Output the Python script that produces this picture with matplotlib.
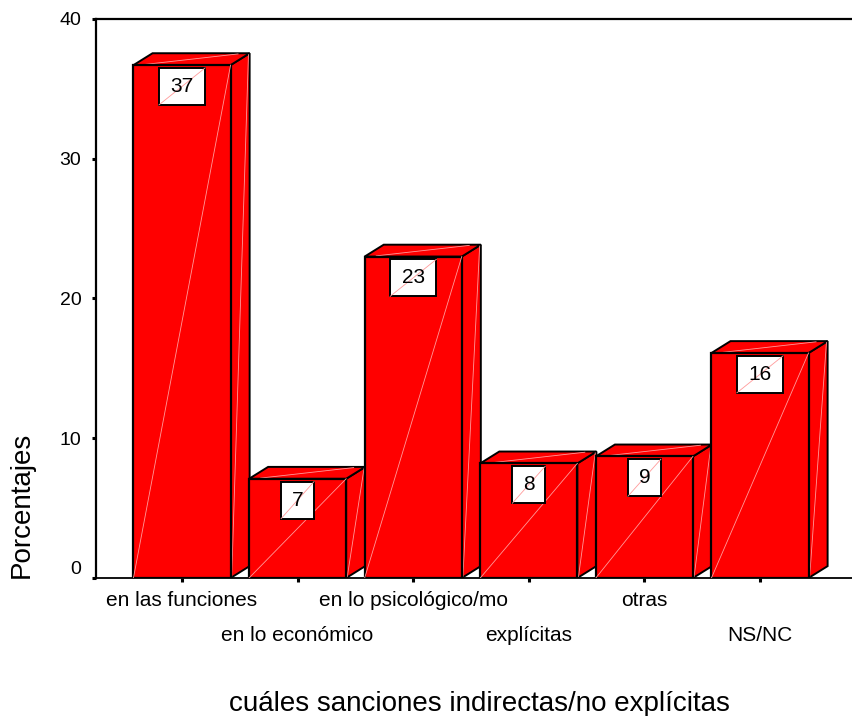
import matplotlib.pyplot as plt
from matplotlib.patches import Polygon, Rectangle

plt.rcParams['font.family'] = ['Liberation Sans', 'DejaVu Sans']

# Porcentajes por categoría
categorias = ['en las funciones', 'en lo económico', 'en lo psicológico/mo',
              'explícitas', 'otras', 'NS/NC']
porcentajes = [36.7, 7.1, 23.0, 8.2, 8.7, 16.1]
yticks = [0, 10, 20, 30, 40]

ROJO = '#ff0000'
BRILLO = '#ff9a9a'
ANCHO = 0.84          # ancho de la cara frontal
DX, DY = 0.165, 0.85  # profundidad del efecto 3D (en unidades de datos)

fig = plt.figure(figsize=(8.52, 7.16), dpi=100)
ax = fig.add_axes([96 / 852, 1 - 578 / 716, 1 - 96 / 852, 559 / 716])
ax.set_xlim(-0.744, 5.796)
ax.set_ylim(0, 40)

for i, h in enumerate(porcentajes):
    x0, x1 = i - ANCHO / 2, i + ANCHO / 2
    # cara lateral
    ax.add_patch(Polygon([(x1, 0), (x1, h), (x1 + DX, h + DY), (x1 + DX, DY)],
                         closed=True, fc=ROJO, ec='black', lw=1.4, zorder=2))
    # cara superior
    ax.add_patch(Polygon([(x0, h), (x1, h), (x1 + DX, h + DY), (x0 + DX, h + DY)],
                         closed=True, fc=ROJO, ec='black', lw=1.4, zorder=2))
    # cara frontal
    ax.add_patch(Rectangle((x0, 0), ANCHO, h, fc=ROJO, ec='black', lw=1.6,
                           zorder=3))
    # reflejos tenues del degradado
    ax.plot([x0, x1], [0, h], color=BRILLO, lw=0.6, zorder=3.5)
    ax.plot([x1 + 0.01, x1 + DX - 0.01], [0.1, h + DY - 0.1], color=BRILLO,
            lw=0.6, zorder=2.5)
    ax.plot([x0 + 0.1, x1 + DX - 0.1], [h + 0.05, h + DY - 0.05], color=BRILLO,
            lw=0.6, zorder=2.5)

    # etiqueta con el valor
    etiqueta = f'{h:.0f}'
    bw = 0.17 + 0.115 * len(etiqueta)
    bh = 2.65
    top = h - 0.2
    ax.add_patch(Rectangle((i - bw / 2, top - bh), bw, bh, fc='white',
                           ec='black', lw=1.4, zorder=4))
    ax.plot([i - bw / 2, i + bw / 2], [top - bh, top], color=BRILLO, lw=0.6,
            zorder=4.2)
    ax.text(i, top - bh / 2, etiqueta, ha='center', va='center', fontsize=15,
            zorder=5)

# ejes
for lado in ['right']:
    ax.spines[lado].set_visible(False)
ax.spines['left'].set_linewidth(1.6)
ax.spines['top'].set_linewidth(1.6)
ax.spines['bottom'].set_linewidth(1.3)

ax.set_yticks(yticks)
ax.set_yticklabels([str(t) for t in yticks], fontsize=14)
ax.yaxis.get_ticklabels()[0].set_va('bottom')
ax.tick_params(axis='y', length=3, width=2.2, pad=7.5, direction='out')

ax.set_xticks(range(len(categorias)))
ax.set_xticklabels([])
ax.tick_params(axis='x', length=3, width=2.2, direction='out')

for i, cat in enumerate(categorias):
    desplazamiento = -20.2 if i % 2 == 0 else -45.4
    ax.annotate(cat, xy=(i, 0), xycoords='data', xytext=(0, desplazamiento),
                textcoords='offset points', ha='center', va='baseline',
                fontsize=15, annotation_clip=False)

fig.text(22 / 852, 1 - 505 / 716, 'Porcentajes', rotation=90, ha='center',
         va='center', fontsize=20)
fig.text(479 / 852, 1 - 711 / 716, 'cuáles sanciones indirectas/no explícitas',
         ha='center', va='baseline', fontsize=20)

fig.savefig('out.png', dpi=100)
